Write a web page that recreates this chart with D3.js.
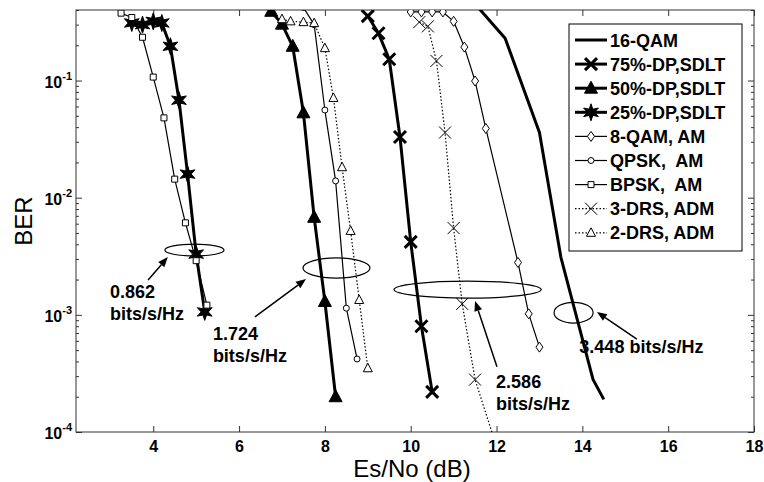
<!DOCTYPE html>
<html>
<head>
<meta charset="utf-8">
<style>
  body { margin: 0; background: #fff; }
  svg { display: block; font-family: "Liberation Sans", Arial, sans-serif; }
</style>
</head>
<body>
<svg id="chart" width="764" height="482"></svg>
<script src="https://cdn.jsdelivr.net/npm/d3@7"></script>
<script>
// values (Es/No in dB, BER)
var qam16X = [11.5, 12.2, 13.0, 13.5, 14.25, 14.5];
var qam16Y = [0.45, 0.23, 0.036, 0.0031, 2.8e-4, 1.9e-4];

var dp75X = [9.0, 9.25, 9.5, 9.75, 10.0, 10.25, 10.5];
var dp75Y = [0.355, 0.253, 0.152, 0.033, 0.0042, 8.0e-4, 2.2e-4];

var dp50X = [6.75, 7.0, 7.25, 7.5, 7.75, 8.0, 8.25];
var dp50Y = [0.39, 0.303, 0.196, 0.053, 0.0068, 0.0013, 2.0e-4];

var dp25X = [3.5, 3.75, 4.0, 4.2, 4.4, 4.6, 4.8, 5.0, 5.2];
var dp25Y = [0.31, 0.30, 0.32, 0.31, 0.196, 0.068, 0.0159, 0.0033, 0.00106];

var qam8X = [10.0, 10.25, 10.5, 10.75, 11.0, 11.25, 11.5, 11.75, 12.5, 12.75, 13.0];
var qam8Y = [0.385, 0.385, 0.385, 0.385, 0.32, 0.193, 0.099, 0.039, 0.0028, 0.00102, 5.3e-4];

var qpskX = [7.5, 7.75, 8.0, 8.25, 8.5, 8.75];
var qpskY = [0.42, 0.30, 0.056, 0.0139, 0.00114, 4.2e-4];

var bpskX = [3.25, 3.5, 3.75, 4.0, 4.25, 4.5, 4.75, 5.0, 5.25];
var bpskY = [0.376, 0.345, 0.234, 0.107, 0.048, 0.0144, 0.0061, 0.0029, 0.00121];

var drs3X = [10.2, 10.4, 10.6, 10.8, 11.0, 11.2, 11.5, 12.0];
var drs3Y = [0.315, 0.29, 0.147, 0.036, 0.0055, 0.00124, 2.8e-4, 7.5e-5];

var drs2X = [7.0, 7.2, 7.5, 7.75, 8.0, 8.2, 8.4, 8.6, 8.8, 9.0];
var drs2Y = [0.334, 0.32, 0.315, 0.309, 0.189, 0.071, 0.0182, 0.0052, 0.00134, 3.5e-4];

var seriesNames = ["16-QAM", "75%-DP,SDLT", "50%-DP,SDLT", "25%-DP,SDLT",
                   "8-QAM, AM", "QPSK,  AM", "BPSK,  AM", "3-DRS, ADM", "2-DRS, ADM"];

var xTicks = [4, 6, 8, 10, 12, 14, 16, 18];
var yExponents = [-4, -3, -2, -1];

// ellipses: [x0, x1, yLow, yHigh] in data units
var ellipses = [
  [4.27, 5.65, 0.00318, 0.00402],
  [7.49, 9.05, 0.00206, 0.00306],
  [9.61, 13.04, 0.00139, 0.00194],
  [13.34, 14.25, 8.5e-4, 0.00128]
];
// arrows: tail x, tail y, head x, head y
var arrows = [
  [3.88, 0.00198, 4.34, 0.00311],
  [6.37, 9.6e-4, 7.56, 0.00202],
  [12.01, 3.6e-4, 11.50, 0.00131],
  [15.27, 6.2e-4, 14.34, 0.00106]
];
var noteLines = [["0.862", "bits/s/Hz"], ["1.724", "bits/s/Hz"], ["2.586", "bits/s/Hz"], ["3.448 bits/s/Hz"]];
var noteX = [2.99, 5.39, 11.99, 13.93];
var noteY = [0.00139, 6.1e-4, 2.37e-4, 4.72e-4];

var margin = { left: 76, top: 10, right: 10, bottom: 50 };
var W = 764, H = 482;
var svg = d3.select("#chart");

var x = d3.scaleLinear().domain([2.2, 18]).range([margin.left, W - margin.right]);
var y = d3.scaleLog().domain([1e-4, 0.4]).range([H - margin.bottom, margin.top]);

svg.append("defs").append("clipPath").attr("id", "plotclip")
  .append("rect")
  .attr("x", margin.left).attr("y", margin.top)
  .attr("width", W - margin.left - margin.right)
  .attr("height", H - margin.top - margin.bottom);

// marker shapes
function hexagram(R, r) {
  var pts = [];
  for (var k = 0; k < 12; k++) {
    var a = (-90 + k * 30) * Math.PI / 180;
    var rad = k % 2 === 0 ? R : r;
    pts.push([rad * Math.cos(a), rad * Math.sin(a)]);
  }
  return "M" + pts.map(p => p[0].toFixed(2) + "," + p[1].toFixed(2)).join("L") + "Z";
}
var markers = {
  bigX: { d: "M-6,-6L6,6M6,-6L-6,6", fill: "none", sw: 3 },
  triF: { d: "M0,-7L6.5,5L-6.5,5Z", fill: "#000", sw: 1 },
  hex: { d: hexagram(8.5, 3.6), fill: "#000", sw: 1 },
  dia: { d: "M0,-5L3.5,0L0,5L-3.5,0Z", fill: "#fff", sw: 1 },
  circ: { d: "M3,0A3,3 0 1,1 -3,0A3,3 0 1,1 3,0Z", fill: "#fff", sw: 1 },
  sq: { d: "M-3,-3L3,-3L3,3L-3,3Z", fill: "#fff", sw: 1 },
  thinX: { d: "M-6,-6L6,6M6,-6L-6,6", fill: "none", sw: 1 },
  tri: { d: "M0,-5L4.5,3.5L-4.5,3.5Z", fill: "#fff", sw: 1 }
};

var series = [
  { name: seriesNames[0], xs: qam16X, ys: qam16Y, w: 3, dash: null, m: null },
  { name: seriesNames[1], xs: dp75X, ys: dp75Y, w: 3, dash: null, m: "bigX" },
  { name: seriesNames[2], xs: dp50X, ys: dp50Y, w: 3, dash: null, m: "triF" },
  { name: seriesNames[3], xs: dp25X, ys: dp25Y, w: 3, dash: null, m: "hex" },
  { name: seriesNames[4], xs: qam8X, ys: qam8Y, w: 1.2, dash: null, m: "dia" },
  { name: seriesNames[5], xs: qpskX, ys: qpskY, w: 1.2, dash: null, m: "circ" },
  { name: seriesNames[6], xs: bpskX, ys: bpskY, w: 1.2, dash: null, m: "sq" },
  { name: seriesNames[7], xs: drs3X, ys: drs3Y, w: 1.2, dash: "1.5,2", m: "thinX" },
  { name: seriesNames[8], xs: drs2X, ys: drs2Y, w: 1.2, dash: "1.5,2", m: "tri" }
];

var line = d3.line().x(d => x(d[0])).y(d => y(d[1]));

// axes box + ticks
var bottom = H - margin.bottom, right = W - margin.right;

var yMinor = [];
yExponents.forEach(function (e) {
  for (var k = 2; k <= 9; k++) {
    var v = k * Math.pow(10, e);
    if (v <= 0.4) yMinor.push(v);
  }
});

var gx = svg.append("g").attr("transform", "translate(0," + bottom + ")")
  .call(d3.axisBottom(x).tickValues(xTicks).tickSize(-6).tickPadding(9).tickFormat(d3.format("d")));
svg.append("g").attr("transform", "translate(0," + margin.top + ")")
  .call(d3.axisTop(x).tickValues(xTicks).tickSize(-6).tickFormat(""));

var gy = svg.append("g").attr("transform", "translate(" + margin.left + ",0)")
  .call(d3.axisLeft(y).tickValues(yExponents.map(e => Math.pow(10, e))).tickSize(-6).tickPadding(6).tickFormat(""));
svg.append("g").attr("transform", "translate(" + margin.left + ",0)")
  .call(d3.axisLeft(y).tickValues(yMinor).tickSize(-3).tickFormat(""));
svg.append("g").attr("transform", "translate(" + right + ",0)")
  .call(d3.axisRight(y).tickValues(yExponents.map(e => Math.pow(10, e))).tickSize(-6).tickFormat(""));
svg.append("g").attr("transform", "translate(" + right + ",0)")
  .call(d3.axisRight(y).tickValues(yMinor).tickSize(-3).tickFormat(""));

svg.selectAll(".domain").remove();
svg.selectAll(".tick line").attr("stroke", "#333");

gx.selectAll(".tick text")
  .attr("font-size", 16).attr("font-weight", "bold").attr("fill", "#000")
  .attr("font-family", "Liberation Sans, Arial, sans-serif");

// y labels 10^n
var ylab = svg.append("g");
yExponents.forEach(function (e) {
  var t = ylab.append("text")
    .attr("x", margin.left - 4).attr("y", y(Math.pow(10, e)) + 7)
    .attr("text-anchor", "end").attr("font-size", 16).attr("font-weight", "bold");
  t.append("tspan").text("10");
  t.append("tspan").attr("font-size", 11).attr("dy", -8).text(String(e));
});

svg.append("rect")
  .attr("x", margin.left).attr("y", margin.top)
  .attr("width", right - margin.left).attr("height", bottom - margin.top)
  .attr("fill", "none").attr("stroke", "#333").attr("stroke-width", 1);

// curves
var plot = svg.append("g").attr("clip-path", "url(#plotclip)");
series.forEach(function (s) {
  var pts = s.xs.map((v, i) => [v, s.ys[i]]);
  plot.append("path").datum(pts)
    .attr("d", line).attr("fill", "none").attr("stroke", "#000")
    .attr("stroke-width", s.w).attr("stroke-dasharray", s.dash)
    .attr("stroke-linejoin", "round");
  if (s.m) {
    var mk = markers[s.m];
    plot.selectAll(null).data(pts).enter().append("path")
      .attr("transform", d => "translate(" + x(d[0]) + "," + y(d[1]) + ")")
      .attr("d", mk.d).attr("fill", mk.fill).attr("stroke", "#000")
      .attr("stroke-width", mk.sw).attr("stroke-linejoin", "miter");
  }
});

// annotations
var ann = svg.append("g");
ellipses.forEach(function (e) {
  var cx = (x(e[0]) + x(e[1])) / 2, cy = (y(e[2]) + y(e[3])) / 2;
  ann.append("ellipse").attr("cx", cx).attr("cy", cy)
    .attr("rx", Math.abs(x(e[1]) - x(e[0])) / 2).attr("ry", Math.abs(y(e[2]) - y(e[3])) / 2)
    .attr("fill", "none").attr("stroke", "#000").attr("stroke-width", 1.2);
});
arrows.forEach(function (a) {
  var x0 = x(a[0]), y0 = y(a[1]), x1 = x(a[2]), y1 = y(a[3]);
  var ang = Math.atan2(y1 - y0, x1 - x0);
  var L = 10, hw = 4;
  var bx = x1 - L * Math.cos(ang), by = y1 - L * Math.sin(ang);
  ann.append("line").attr("x1", x0).attr("y1", y0).attr("x2", bx).attr("y2", by)
    .attr("stroke", "#000").attr("stroke-width", 1.5);
  var px = -Math.sin(ang) * hw, py = Math.cos(ang) * hw;
  ann.append("path")
    .attr("d", "M" + x1 + "," + y1 + "L" + (bx + px) + "," + (by + py) + "L" + (bx - px) + "," + (by - py) + "Z")
    .attr("fill", "#000");
});
noteLines.forEach(function (lines, i) {
  var t = ann.append("text").attr("x", x(noteX[i])).attr("y", y(noteY[i]))
    .attr("font-size", 18).attr("font-weight", "bold");
  lines.forEach(function (ln, j) {
    t.append("tspan").attr("x", x(noteX[i])).attr("dy", j === 0 ? 0 : 22).text(ln);
  });
});

// axis titles
svg.append("text").attr("x", 412).attr("y", 477)
  .attr("text-anchor", "middle").attr("font-size", 24).text("Es/No (dB)");
svg.append("text").attr("transform", "translate(32,221) rotate(-90)")
  .attr("text-anchor", "middle").attr("font-size", 24).text("BER");

// legend
var lg = svg.append("g");
lg.append("rect").attr("x", 569).attr("y", 24).attr("width", 173).attr("height", 227)
  .attr("fill", "#fff").attr("stroke", "#000").attr("stroke-width", 1);
series.forEach(function (s, i) {
  var ly = 40 + i * 24.1;
  lg.append("line").attr("x1", 575).attr("x2", 607).attr("y1", ly).attr("y2", ly)
    .attr("stroke", "#000").attr("stroke-width", s.w).attr("stroke-dasharray", s.dash);
  if (s.m) {
    var mk = markers[s.m];
    lg.append("path").attr("transform", "translate(591," + ly + ")")
      .attr("d", mk.d).attr("fill", mk.fill).attr("stroke", "#000").attr("stroke-width", mk.sw);
  }
  lg.append("text").attr("x", 610).attr("y", ly + 6.5)
    .attr("font-size", 18).attr("font-weight", "bold")
    .style("white-space", "pre").attr("xml:space", "preserve").text(s.name);
});
</script>
</body>
</html>
